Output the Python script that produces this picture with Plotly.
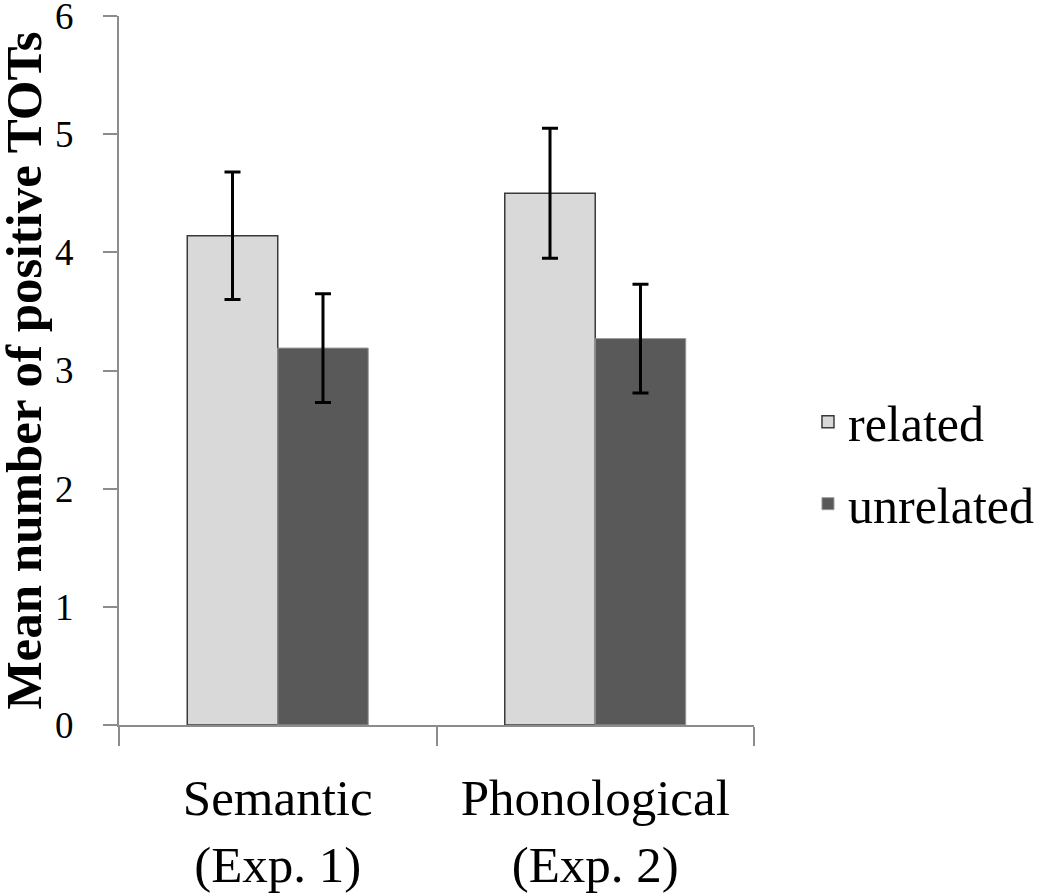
import plotly.graph_objects as go

# Datos
categories = ["Semantic<br>(Exp. 1)", "Phonological<br>(Exp. 2)"]
related = [4.14, 4.50]
related_err = [0.54, 0.55]
unrelated = [3.19, 3.27]
unrelated_err = [0.46, 0.46]
y_ticks = [0, 1, 2, 3, 4, 5, 6]

FONT = "Liberation Serif"

fig = go.Figure()

fig.add_trace(
    go.Bar(
        x=categories,
        y=related,
        name="related",
        legendgroup="related",
        marker=dict(color="#d9d9d9", line=dict(color="#3a3a3a", width=1.5)),
        error_y=dict(type="data", array=related_err, color="black", thickness=3, width=8),
    )
)

fig.add_trace(
    go.Bar(
        x=categories,
        y=unrelated,
        name="unrelated",
        legendgroup="unrelated",
        marker=dict(color="#595959", line=dict(color="#9a9a9a", width=1)),
        error_y=dict(type="data", array=unrelated_err, color="black", thickness=3, width=8),
    )
)

fig.update_layout(
    width=1050,
    height=893,
    barmode="group",
    bargap=0.43,
    bargroupgap=0,
    plot_bgcolor="white",
    paper_bgcolor="white",
    font=dict(family=FONT, color="black"),
    margin=dict(l=119, r=296, t=16, b=168, autoexpand=False),
    showlegend=True,
    legend=dict(
        x=1.085,
        xanchor="left",
        y=0.37,
        yanchor="middle",
        font=dict(family=FONT, size=50, color="black"),
        traceorder="grouped",
        tracegroupgap=14,
    ),
    annotations=[
        dict(
            text="<b>Mean number of positive TOTs</b>",
            xref="paper",
            yref="paper",
            x=-0.151,
            y=0.50,
            xanchor="center",
            yanchor="middle",
            textangle=-90,
            showarrow=False,
            font=dict(family=FONT, size=51, color="black"),
        )
    ],
)

fig.update_xaxes(
    automargin=False,
    showline=True,
    linecolor="#8c8c8c",
    linewidth=2,
    ticks="outside",
    tickson="boundaries",
    ticklen=19,
    tickwidth=2,
    tickcolor="#8c8c8c",
    tickfont=dict(family=FONT, size=51, color="black"),
    ticklabelstandoff=27,
    showgrid=False,
    zeroline=False,
)

fig.update_yaxes(
    automargin=False,
    range=[0, 6],
    tickmode="array",
    tickvals=y_ticks,
    showline=True,
    linecolor="#8c8c8c",
    linewidth=2,
    ticks="outside",
    ticklen=14,
    tickwidth=2,
    tickcolor="#8c8c8c",
    tickfont=dict(family=FONT, size=37, color="black"),
    ticklabelstandoff=22,
    ticklabeloverflow="allow",
    showgrid=False,
    zeroline=False,
)

# Quitar el margen por defecto del <body> para que la figura ocupe toda la ventana
fig.write_html(
    "out.html",
    config={"displayModeBar": False},
    post_script="document.body.style.margin = '0px';",
)
